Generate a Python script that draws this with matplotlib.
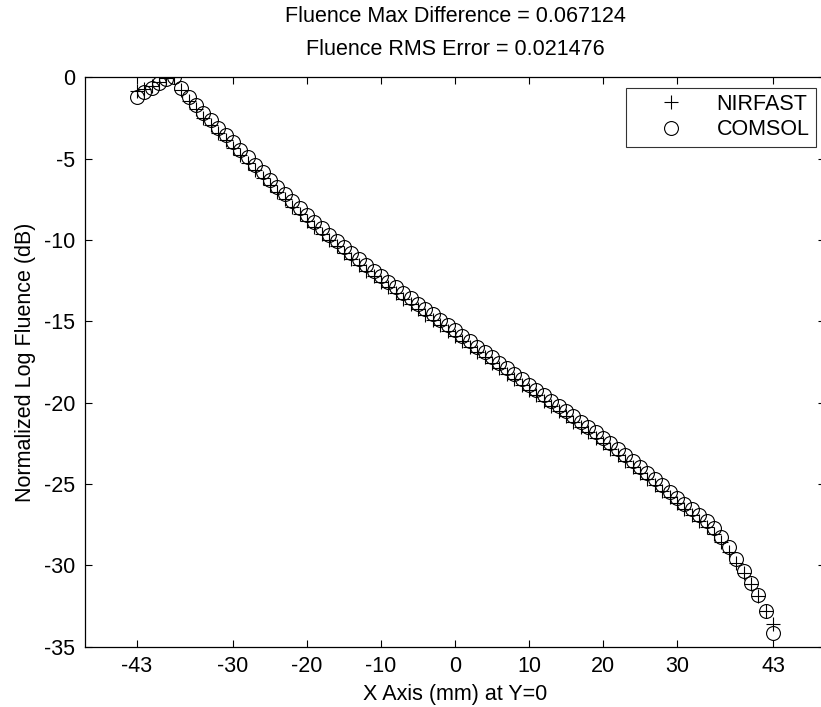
import numpy as np
import matplotlib.pyplot as plt

plt.rcParams['font.family'] = ['Liberation Sans', 'DejaVu Sans']
plt.rcParams['axes.unicode_minus'] = False

# positions along the X axis (mm), one sample per mm
x_mm = list(range(-43, 44))

# COMSOL normalized log fluence (dB)
comsol = [
    -1.20, -0.90, -0.65, -0.35, -0.08, 0.00, -0.65, -1.20, -1.72, -2.20,
    -2.65, -3.10, -3.55, -4.00, -4.47, -4.93, -5.39, -5.84, -6.29, -6.73,
    -7.17, -7.61, -8.05, -8.48, -8.89, -9.29, -9.68, -10.06, -10.44, -10.81,
    -11.18, -11.54, -11.89, -12.24, -12.58, -12.92, -13.26, -13.59, -13.92, -14.25,
    -14.58, -14.91, -15.23, -15.55, -15.88, -16.22, -16.55, -16.89, -17.22, -17.56,
    -17.89, -18.23, -18.56, -18.90, -19.22, -19.55, -19.87, -20.20, -20.52, -20.85,
    -21.17, -21.50, -21.82, -22.15, -22.51, -22.87, -23.23, -23.60, -23.97, -24.34,
    -24.71, -25.09, -25.47, -25.85, -26.20, -26.55, -26.92, -27.30, -27.72, -28.25,
    -28.90, -29.60, -30.32, -31.06, -31.85, -32.78, -34.17,
]

# NIRFAST normalized log fluence (dB)
nirfast = [
    -0.85, -0.75, -0.55, -0.30, -0.05, 0.00, -0.80, -1.45, -1.98, -2.48,
    -2.95, -3.40, -3.86, -4.32, -4.80, -5.27, -5.73, -6.18, -6.63, -7.07,
    -7.51, -7.95, -8.39, -8.82, -9.23, -9.63, -10.02, -10.40, -10.78, -11.15,
    -11.52, -11.88, -12.23, -12.58, -12.92, -13.26, -13.60, -13.93, -14.26, -14.59,
    -14.92, -15.25, -15.57, -15.88, -16.21, -16.55, -16.88, -17.22, -17.55, -17.89,
    -18.22, -18.56, -18.89, -19.23, -19.55, -19.88, -20.20, -20.53, -20.85, -21.18,
    -21.50, -21.83, -22.15, -22.48, -22.84, -23.20, -23.56, -23.93, -24.30, -24.67,
    -25.04, -25.42, -25.80, -26.18, -26.53, -26.88, -27.25, -27.63, -28.05, -28.55,
    -29.18, -29.85, -30.50, -31.15, -31.90, -32.78, -33.60,
]

xticks = [-43, -30, -20, -10, 0, 10, 20, 30, 43]
yticks = [0, -5, -10, -15, -20, -25, -30, -35]

fs = 15.5

fig = plt.figure(figsize=(8.21, 7.07), dpi=100)
ax = fig.add_axes([0.1035, 0.0853, 0.9013, 0.8054])

ax.plot(x_mm, nirfast, 'k+', ms=10, mew=0.8, label='NIRFAST')
ax.plot(x_mm, comsol, 'ko', ms=10, mew=0.8, mfc='none', label='COMSOL')

ax.set_xlim(-50, 50)
ax.set_ylim(-35, 0)
ax.set_xticks(xticks)
ax.set_yticks(yticks)
ax.tick_params(direction='in', length=5, width=0.8, top=True, right=True,
               labelsize=fs, pad=7)
for s in ax.spines.values():
    s.set_linewidth(0.9)

ax.set_xlabel('X Axis (mm) at Y=0', fontsize=fs, labelpad=5)
ax.set_ylabel('Normalized Log Fluence (dB)', fontsize=fs, labelpad=6)
ax.set_title('Fluence Max Difference = 0.067124\nFluence RMS Error = 0.021476',
             fontsize=fs, linespacing=1.75, pad=16)

leg = ax.legend(loc='upper right', bbox_to_anchor=(0.988, 0.982), fontsize=fs,
                frameon=True, fancybox=False, edgecolor='black',
                handlelength=3.6, handletextpad=0.3, borderpad=0.3,
                labelspacing=0.2, borderaxespad=0)
leg.get_frame().set_linewidth(0.8)

fig.savefig('out.png', dpi=100)
